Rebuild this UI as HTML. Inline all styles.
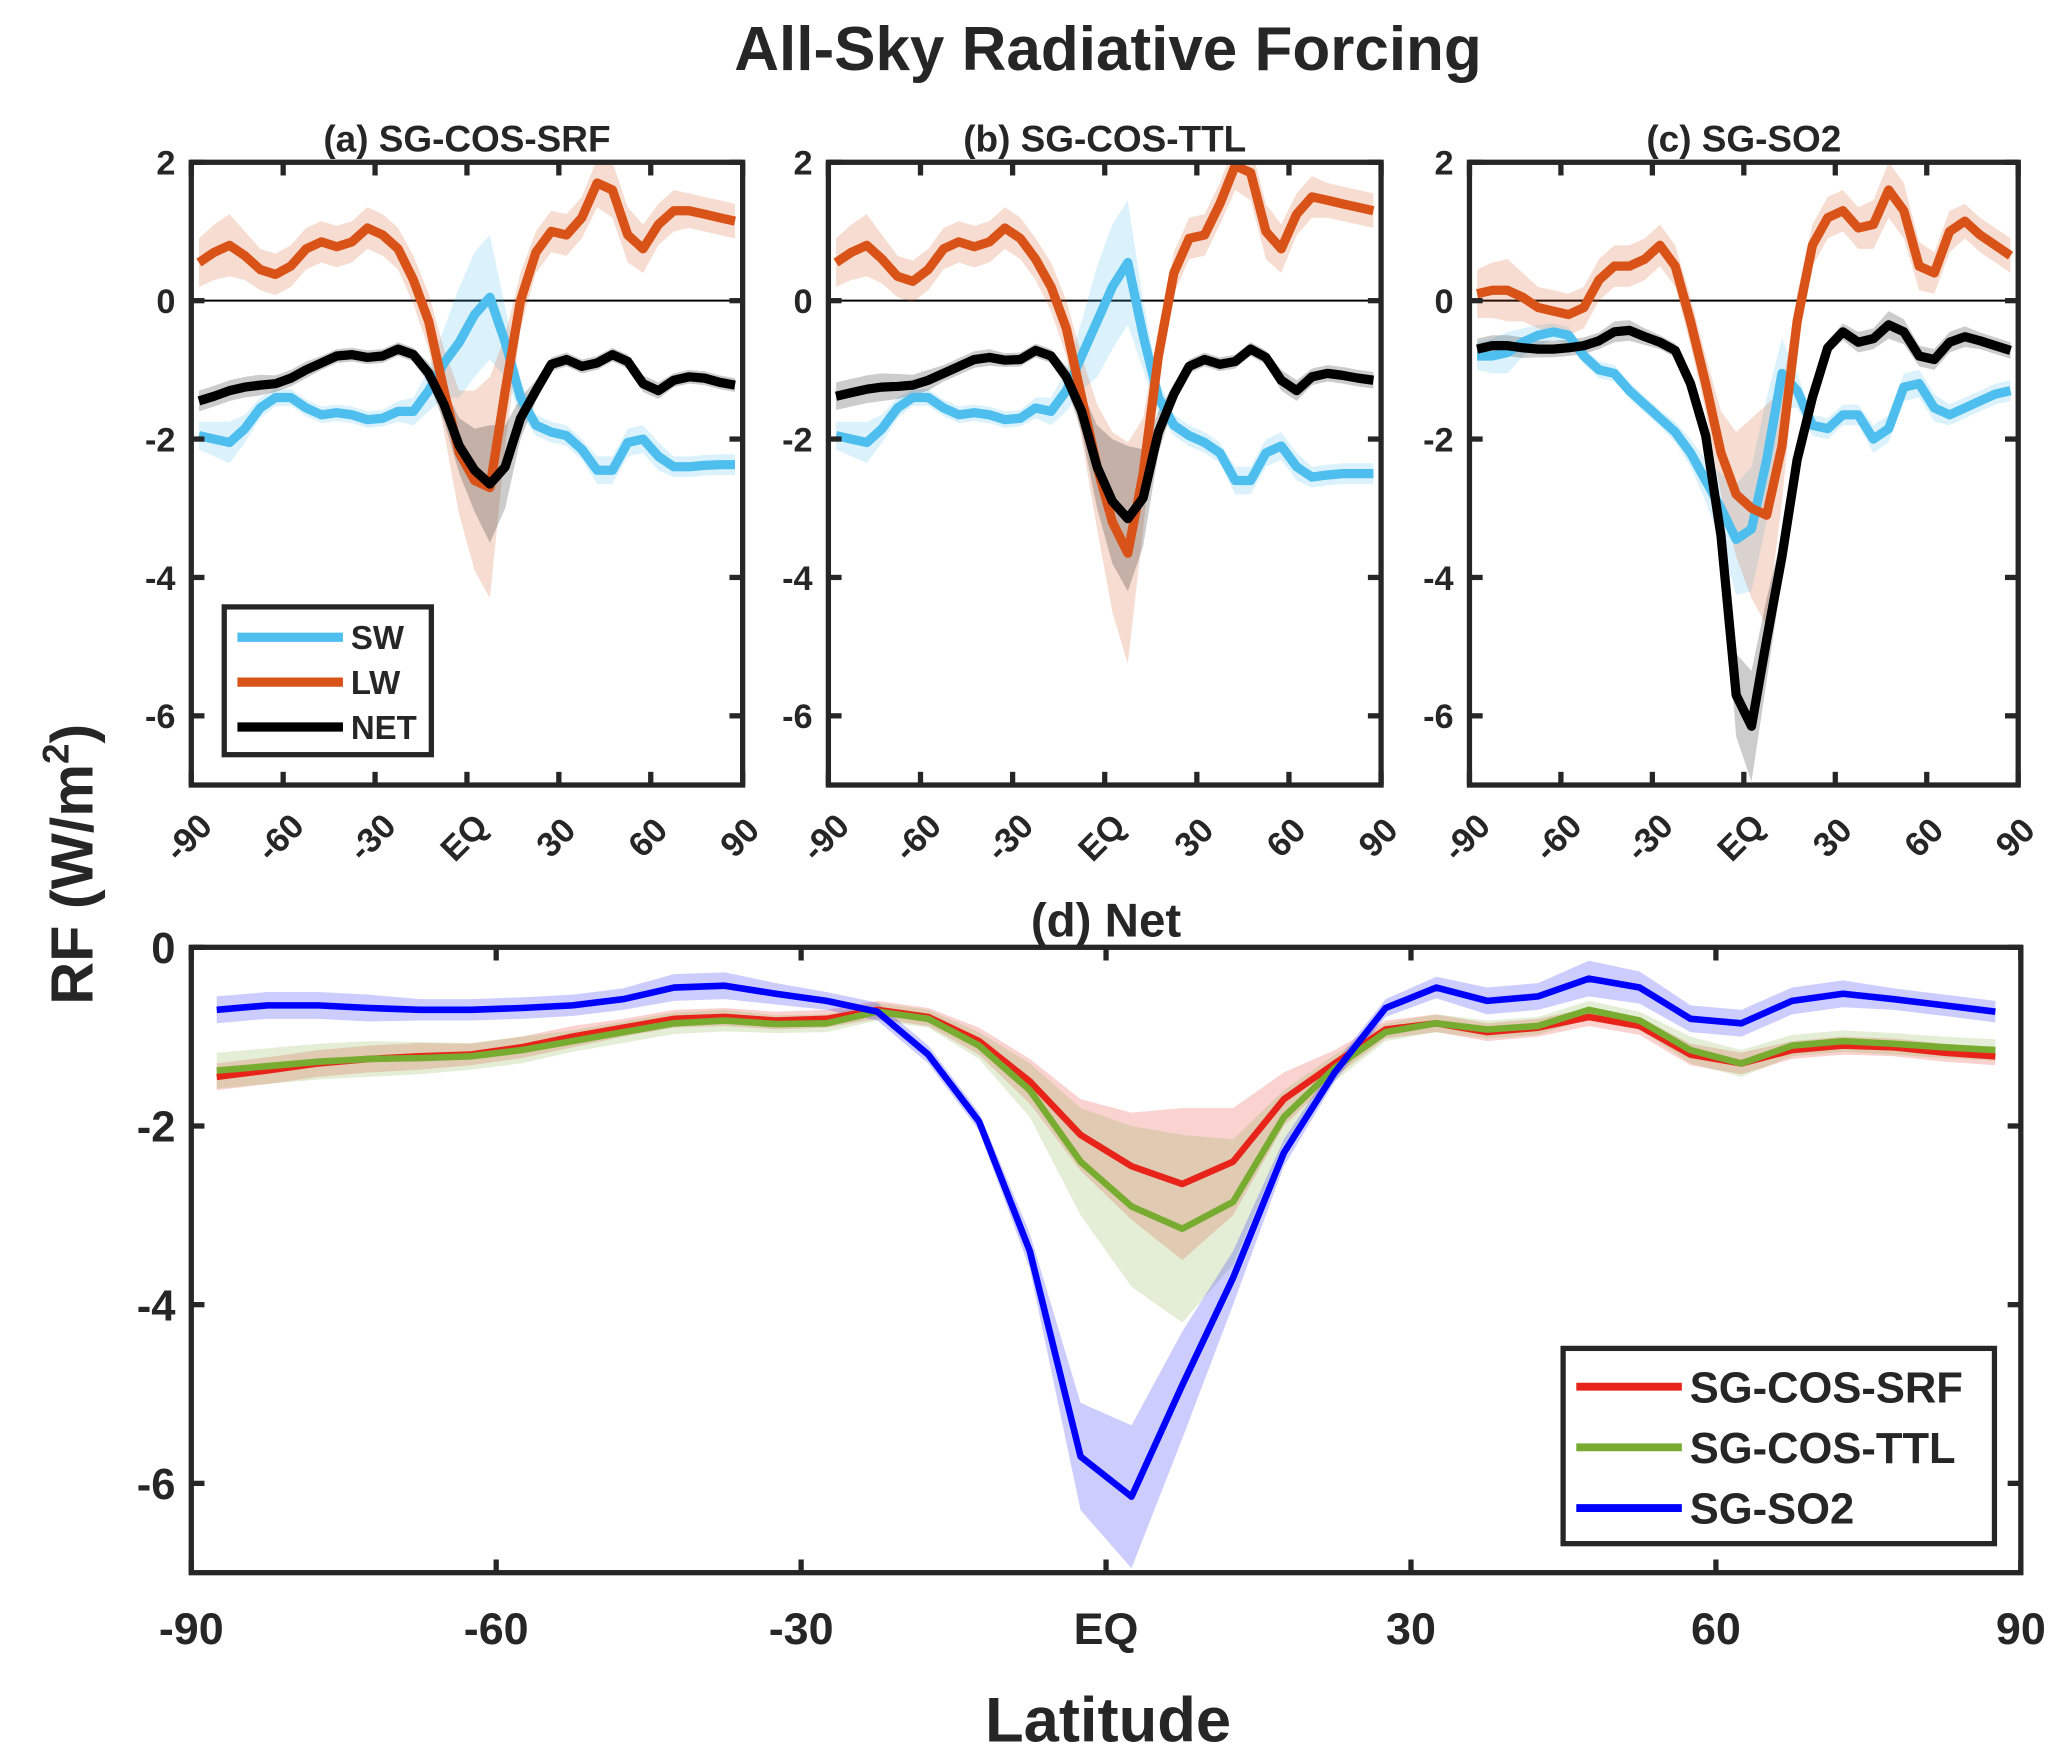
<!DOCTYPE html>
<html><head><meta charset="utf-8"><style>
html,body{margin:0;padding:0;background:#fff}
svg{display:block}
text{font-family:"Liberation Sans",Arial,sans-serif;font-weight:bold;fill:#262626}
</style></head><body>
<svg id="fig" width="2067" height="1764" viewBox="0 0 1567 1337" preserveAspectRatio="none" xmlns="http://www.w3.org/2000/svg">
<text x="840" y="53" font-size="47" text-anchor="middle" fill="#262626">All-Sky Radiative Forcing</text>
<text transform="translate(70,655) rotate(-90)" font-size="45" text-anchor="middle">RF (W/m<tspan font-size="28" dy="-18">2</tspan><tspan dy="18">)</tspan></text>
<text x="840" y="1320" font-size="48" text-anchor="middle">Latitude</text>
</svg>
<script>
const lats = [-87.5,-82.5,-77.5,-72.5,-67.5,-62.5,-57.5,-52.5,-47.5,-42.5,-37.5,-32.5,-27.5,-22.5,-17.5,-12.5,-7.5,-2.5,2.5,7.5,12.5,17.5,22.5,27.5,32.5,37.5,42.5,47.5,52.5,57.5,62.5,67.5,72.5,77.5,82.5,87.5];
const netSRF = [-1.45,-1.38,-1.3,-1.25,-1.22,-1.2,-1.12,-1.0,-0.9,-0.8,-0.78,-0.82,-0.8,-0.7,-0.78,-1.05,-1.5,-2.1,-2.45,-2.65,-2.4,-1.7,-1.3,-0.92,-0.85,-0.95,-0.9,-0.78,-0.88,-1.2,-1.3,-1.15,-1.1,-1.12,-1.18,-1.22];
const netTTL = [-1.38,-1.33,-1.28,-1.25,-1.24,-1.22,-1.15,-1.05,-0.95,-0.85,-0.82,-0.86,-0.85,-0.72,-0.8,-1.1,-1.6,-2.4,-2.9,-3.15,-2.85,-1.9,-1.35,-0.95,-0.85,-0.92,-0.88,-0.7,-0.82,-1.15,-1.3,-1.1,-1.05,-1.08,-1.12,-1.15];
const netSO2 = [-0.7,-0.65,-0.65,-0.68,-0.7,-0.7,-0.68,-0.65,-0.58,-0.45,-0.43,-0.52,-0.6,-0.72,-1.2,-1.95,-3.4,-5.7,-6.15,-4.9,-3.7,-2.3,-1.4,-0.68,-0.45,-0.6,-0.55,-0.35,-0.45,-0.8,-0.85,-0.6,-0.52,-0.58,-0.65,-0.72];
const sprSRF = [0.15,0.15,0.15,0.15,0.15,0.12,0.12,0.12,0.1,0.1,0.1,0.1,0.1,0.1,0.1,0.15,0.25,0.4,0.6,0.85,0.6,0.3,0.15,0.1,0.1,0.1,0.1,0.1,0.1,0.12,0.12,0.1,0.1,0.1,0.1,0.1];
const sprTTL = [0.2,0.2,0.2,0.2,0.18,0.15,0.15,0.12,0.12,0.12,0.12,0.1,0.1,0.1,0.1,0.15,0.3,0.6,0.9,1.05,0.7,0.3,0.15,0.1,0.1,0.1,0.1,0.1,0.1,0.15,0.15,0.12,0.12,0.12,0.12,0.12];
const sprSO2 = [0.15,0.15,0.15,0.15,0.12,0.12,0.12,0.12,0.12,0.15,0.15,0.12,0.1,0.1,0.1,0.1,0.2,0.6,0.8,0.6,0.3,0.15,0.1,0.1,0.12,0.15,0.15,0.2,0.18,0.15,0.15,0.15,0.15,0.12,0.12,0.12];
const lwA = [0.55,0.7,0.8,0.65,0.45,0.38,0.5,0.75,0.85,0.78,0.85,1.05,0.95,0.75,0.3,-0.3,-1.3,-2.2,-2.6,-2.7,-1.3,0.0,0.7,1.0,0.95,1.2,1.7,1.6,0.95,0.75,1.1,1.3,1.3,1.25,1.2,1.15];
const swA = [-1.95,-2.0,-2.05,-1.85,-1.55,-1.4,-1.4,-1.55,-1.65,-1.62,-1.65,-1.72,-1.7,-1.6,-1.6,-1.3,-0.9,-0.6,-0.2,0.05,-0.6,-1.4,-1.8,-1.9,-1.95,-2.15,-2.45,-2.45,-2.05,-2.0,-2.25,-2.4,-2.4,-2.38,-2.37,-2.37];
const lwB = [0.55,0.7,0.8,0.6,0.35,0.28,0.45,0.75,0.85,0.78,0.85,1.05,0.9,0.6,0.2,-0.4,-1.4,-2.4,-3.2,-3.65,-2.5,-0.8,0.4,0.9,0.95,1.4,1.95,1.85,1.0,0.75,1.25,1.5,1.45,1.4,1.35,1.3];
const swB = [-1.95,-2.0,-2.05,-1.85,-1.55,-1.4,-1.4,-1.55,-1.65,-1.62,-1.65,-1.72,-1.7,-1.55,-1.6,-1.3,-0.8,-0.3,0.2,0.55,-0.5,-1.4,-1.8,-1.95,-2.05,-2.2,-2.6,-2.6,-2.2,-2.1,-2.4,-2.55,-2.52,-2.5,-2.5,-2.5];
const lwC = [0.1,0.15,0.15,0.05,-0.1,-0.15,-0.2,-0.1,0.3,0.5,0.5,0.6,0.8,0.5,-0.3,-1.2,-2.2,-2.8,-3.0,-3.1,-2.1,-0.3,0.8,1.2,1.3,1.05,1.1,1.6,1.3,0.5,0.4,1.0,1.15,0.95,0.8,0.65];
const swC = [-0.8,-0.8,-0.75,-0.6,-0.5,-0.45,-0.5,-0.8,-1.0,-1.05,-1.3,-1.5,-1.7,-1.9,-2.2,-2.6,-3.0,-3.45,-3.3,-2.3,-1.05,-1.3,-1.8,-1.85,-1.65,-1.65,-2.0,-1.85,-1.25,-1.2,-1.55,-1.65,-1.55,-1.45,-1.35,-1.3];
const sprLW = [0.35,0.4,0.45,0.35,0.3,0.3,0.3,0.3,0.3,0.3,0.3,0.3,0.3,0.3,0.35,0.4,0.6,0.9,1.3,1.6,0.8,0.4,0.3,0.3,0.3,0.3,0.35,0.4,0.4,0.35,0.3,0.3,0.25,0.25,0.25,0.25];
const sprSW = [0.2,0.25,0.3,0.2,0.15,0.12,0.12,0.12,0.12,0.12,0.12,0.12,0.12,0.15,0.2,0.3,0.5,0.8,0.9,0.9,0.5,0.25,0.15,0.15,0.15,0.15,0.2,0.2,0.2,0.2,0.2,0.15,0.15,0.15,0.15,0.15];
const topYTicks = [2,0,-2,-4,-6];
const topXTicks = [-90,-60,-30,0,30,60,90];
const topXLabels = ["-90","-60","-30","EQ","30","60","90"];
const botYTicks = [0,-2,-4,-6];

const NS="http://www.w3.org/2000/svg";
const svg=document.getElementById('fig');
function el(tag,attrs,parent){const e=document.createElementNS(NS,tag);for(const k in attrs)e.setAttribute(k,attrs[k]);(parent||svg).appendChild(e);return e;}

function panel(o){
  const g=el('g',{});
  
  
  const xs=v=>o.x0+(v+90)/180*(o.x1-o.x0);
  const ys=v=>o.y0+(o.ymax-v)/(o.ymax-o.ymin)*(o.y1-o.y0);
  const clip='clip-'+o.name;
  const cp=el('clipPath',{id:clip},g);el('rect',{x:o.x0,y:o.y0,width:o.x1-o.x0,height:o.y1-o.y0},cp);
  const inner=el('g',{'clip-path':'url(#'+clip+')'},g);
  if(o.zero){const zl=el('line',{x1:o.x0,x2:o.x1,y1:ys(0),y2:ys(0),stroke:'#000','stroke-width':1.5},inner);
    }
  o.series.forEach(s=>{
    let up='',lo='';
    lats.forEach((la,i)=>{up+=(i?'L':'M')+xs(la).toFixed(1)+','+ys(s.v[i]+s.sp[i]).toFixed(1);});
    for(let i=lats.length-1;i>=0;i--){lo+='L'+xs(lats[i]).toFixed(1)+','+ys(s.v[i]-s.sp[i]).toFixed(1);}
    const b=el('path',{d:up+lo+'Z',fill:s.c,'fill-opacity':0.2,stroke:'none'},inner);
    
  });
  o.series.forEach(s=>{
    const pts=lats.map((la,i)=>xs(la).toFixed(1)+','+ys(s.v[i]).toFixed(1)).join(' ');
    const l=el('polyline',{points:pts,fill:'none',stroke:s.c,'stroke-width':o.lw,'stroke-linejoin':'round'},inner);
    
  });
  const fr=el('rect',{x:o.x0,y:o.y0,width:o.x1-o.x0,height:o.y1-o.y0,fill:'none',stroke:'#262626','stroke-width':4},g);
  
  o.xt.forEach((t,i)=>{
    const x=xs(t);
    el('line',{x1:x,x2:x,y1:o.y1,y2:o.y1-10,stroke:'#262626','stroke-width':4},g);
    el('line',{x1:x,x2:x,y1:o.y0,y2:o.y0+10,stroke:'#262626','stroke-width':4},g);
    let tx;
    if(o.rot){tx=el('text',{transform:`translate(${x+4},${o.y1+46}) rotate(-45)`,'font-size':26,'text-anchor':'middle'},g);}
    else{tx=el('text',{x:x,y:o.y1+54,'font-size':34,'text-anchor':'middle'},g);}
    tx.textContent=o.xl[i];
    
  });
  o.yt.forEach(t=>{
    const y=ys(t);
    el('line',{x1:o.x0,x2:o.x0+10,y1:y,y2:y,stroke:'#262626','stroke-width':4},g);
    el('line',{x1:o.x1,x2:o.x1-10,y1:y,y2:y,stroke:'#262626','stroke-width':4},g);
    const tx=el('text',{x:o.x0-12,y:y+o.yfs*0.36,'font-size':o.yfs,'text-anchor':'end'},g);
    tx.textContent=String(t);
    
  });
  const ti=el('text',{x:(o.x0+o.x1)/2,y:o.y0-8,'font-size':o.tfs,'text-anchor':'middle'},g);
  ti.textContent=o.title;
  return {g,xs,ys};
}
const SWc='#4DBEEE',LWc='#D95319',NETc='#000';
function topPanel(name,title,x0,x1,lw,sw,net,sprN){
  return panel({name,title,x0,x1,y0:123,y1:595,ymin:-7,ymax:2,zero:true,lw:7,rot:true,yfs:26,tfs:28,
    xt:topXTicks,xl:topXLabels,yt:topYTicks,
    series:[{n:'sw',v:sw,sp:sprSW,c:SWc},{n:'lw',v:lw,sp:sprLW,c:LWc},{n:'net',v:net,sp:sprN,c:NETc}]});
}
topPanel('panel-a','(a) SG-COS-SRF',145,563,lwA,swA,netSRF,sprSRF);
topPanel('panel-b','(b) SG-COS-TTL',628,1047,lwB,swB,netTTL,sprTTL);
topPanel('panel-c','(c) SG-SO2',1114,1530,lwC,swC,netSO2,sprSO2);
panel({name:'panel-d',title:'(d) Net',x0:145,x1:1532,y0:718,y1:1192,ymin:-7,ymax:0,zero:false,lw:5,rot:false,yfs:33,tfs:36,
  xt:topXTicks,xl:topXLabels,yt:botYTicks,
  series:[{n:'sg-cos-srf',v:netSRF,sp:sprSRF,c:'#E8231A'},{n:'sg-cos-ttl',v:netTTL,sp:sprTTL,c:'#77AC30'},{n:'sg-so2',v:netSO2,sp:sprSO2,c:'#0000FF'}]});

function legend(name,x,y,w,h,items,fs,lw,dy,lineLen){
  const g=el('g',{});
  
  el('rect',{x,y,width:w,height:h,fill:'#fff',stroke:'#262626','stroke-width':4},g);
  items.forEach((it,i)=>{
    const yy=y+dy*(i+0.5)+6;
    const ln=el('line',{x1:x+10,x2:x+10+lineLen,y1:yy,y2:yy,stroke:it[1],'stroke-width':lw},g);
    
    const t=el('text',{x:x+lineLen+16,y:yy+fs*0.36,'font-size':fs},g);
    t.textContent=it[0];
  });
}
legend('legend-top',170,460,157,112,[['SW',SWc],['LW',LWc],['NET','#000']],25,7,34,80);
legend('legend-net',1185,1022,327,148,[['SG-COS-SRF','#E8231A'],['SG-COS-TTL','#77AC30'],['SG-SO2','#0000FF']],33,6,46,80);
</script>
</body></html>
